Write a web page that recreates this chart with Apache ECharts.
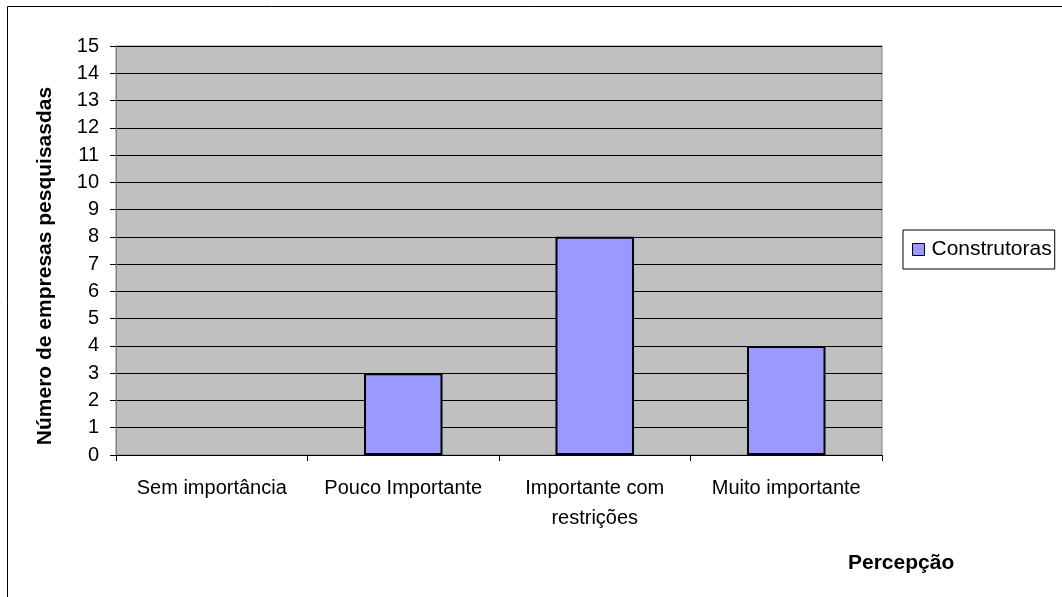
<!DOCTYPE html>
<html>
<head>
<meta charset="utf-8">
<script src="https://cdn.jsdelivr.net/npm/echarts@6/dist/echarts.min.js"></script>
<style>
  html, body { margin: 0; padding: 0; background: #fff; }
  #chart { width: 1062px; height: 597px; }
</style>
</head>
<body>
<div id="chart"></div>
<script>
const categories = ['Sem importância', 'Pouco Importante', 'Importante com\nrestrições', 'Muito importante']
const construtoras = [0, 3, 8, 4]
const seriesName = 'Construtoras'
const yTitle = 'Número de empresas pesquisasdas'
const xTitle = 'Percepção'

const font = 'Liberation Sans, Arial, sans-serif'
const chart = echarts.init(document.getElementById('chart'))

const option = {
  animation: false,
  textStyle: { fontFamily: font },
  grid: {
    left: 116, top: 46, right: 180, bottom: 142,
    show: true,
    backgroundColor: '#c0c0c0',
    borderColor: '#808080',
    borderWidth: 1
  },
  legend: {
    left: 903, top: 230,
    orient: 'vertical',
    data: [seriesName],
    icon: 'rect',
    itemWidth: 12, itemHeight: 12,
    padding: [9, 3, 9, 9],
    borderColor: '#000', borderWidth: 1,
    textStyle: { fontFamily: font, fontSize: 21, color: '#000', padding: [0, 0, 0, 2] },
    itemStyle: { borderColor: '#000', borderWidth: 1 }
  },
  xAxis: {
    type: 'category',
    data: categories,
    axisLine: { lineStyle: { color: '#000', width: 1 } },
    axisTick: { show: true, length: 6, lineStyle: { color: '#000' } },
    axisLabel: { fontFamily: font, fontSize: 20, color: '#000', margin: 18, lineHeight: 30, interval: 0 }
  },
  yAxis: {
    type: 'value',
    min: 0, max: 15, interval: 1,
    axisLine: { show: true, lineStyle: { color: '#808080' } },
    axisTick: { show: true, length: 6, lineStyle: { color: '#000' } },
    axisLabel: { fontFamily: font, fontSize: 20, color: '#000', margin: 17 },
    splitLine: { show: true, lineStyle: { color: '#000', width: 1 } }
  },
  series: [{
    name: seriesName,
    type: 'bar',
    // zero values draw no bar in the reference
    data: construtoras.map(v => (v === 0 ? '-' : v)),
    barWidth: '41%',
    itemStyle: { color: '#9999ff', borderColor: '#000', borderWidth: 2 }
  }],
  graphic: [
    {
      type: 'rect',
      shape: { x: 7.5, y: 6.5, width: 1100, height: 640 },
      style: { fill: null, stroke: '#000', lineWidth: 1 },
      z: -10
    },
    {
      type: 'text',
      x: 45, y: 266,
      rotation: Math.PI / 2,
      style: {
        text: yTitle, font: 'bold 21px ' + font, fill: '#000',
        align: 'center', verticalAlign: 'middle'
      }
    },
    {
      type: 'text',
      x: 848, y: 563,
      style: { text: xTitle, font: 'bold 21px ' + font, fill: '#000', verticalAlign: 'middle' }
    }
  ]
}

chart.setOption(option)
</script>
</body>
</html>
